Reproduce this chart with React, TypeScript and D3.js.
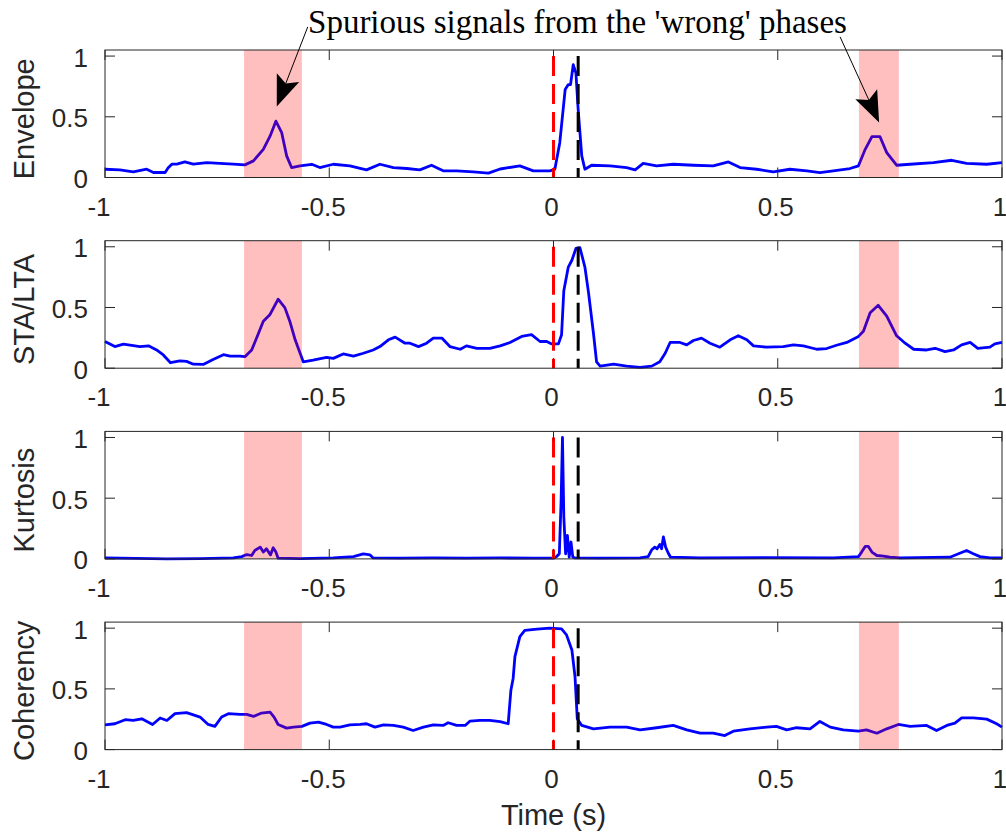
import React, { useRef, useEffect } from 'react';
import * as d3 from 'd3';

// time (s) vs normalised characteristic function
const envelope: [number, number][] = [
    [-1, 0.068], [-0.967, 0.063], [-0.937, 0.046], [-0.907, 0.068], [-0.892, 0.041], [-0.866, 0.041],
    [-0.859, 0.08], [-0.851, 0.11], [-0.84, 0.11], [-0.822, 0.128], [-0.803, 0.11], [-0.773, 0.123],
    [-0.744, 0.117], [-0.714, 0.11], [-0.688, 0.104], [-0.669, 0.137], [-0.647, 0.232], [-0.632, 0.34],
    [-0.619, 0.464], [-0.606, 0.369], [-0.595, 0.178], [-0.584, 0.082], [-0.565, 0.096], [-0.539, 0.109],
    [-0.521, 0.082], [-0.491, 0.109], [-0.454, 0.096], [-0.417, 0.063], [-0.387, 0.109], [-0.357, 0.082],
    [-0.327, 0.074], [-0.298, 0.063], [-0.272, 0.101], [-0.246, 0.055], [-0.216, 0.055], [-0.179, 0.046],
    [-0.145, 0.036], [-0.119, 0.07], [-0.075, 0.096], [-0.045, 0.055], [-0.008, 0.055], [0.003, 0.068],
    [0.014, 0.287], [0.026, 0.724], [0.033, 0.765], [0.038, 0.765], [0.044, 0.929], [0.05, 0.861],
    [0.055, 0.56], [0.063, 0.178], [0.07, 0.068], [0.085, 0.101], [0.126, 0.096], [0.163, 0.082],
    [0.182, 0.063], [0.2, 0.117], [0.23, 0.096], [0.267, 0.109], [0.312, 0.101], [0.356, 0.096],
    [0.39, 0.128], [0.416, 0.082], [0.453, 0.068], [0.49, 0.046], [0.527, 0.068], [0.565, 0.055],
    [0.594, 0.041], [0.624, 0.055], [0.661, 0.074], [0.68, 0.096], [0.695, 0.232], [0.71, 0.336],
    [0.728, 0.336], [0.743, 0.205], [0.765, 0.101], [0.795, 0.109], [0.847, 0.123], [0.888, 0.142],
    [0.921, 0.117], [0.966, 0.109], [1, 0.123],
];

const staLta: [number, number][] = [
    [-1, 0.22], [-0.978, 0.178], [-0.959, 0.198], [-0.922, 0.178], [-0.903, 0.184], [-0.885, 0.15],
    [-0.87, 0.109], [-0.854, 0.045], [-0.833, 0.061], [-0.818, 0.056], [-0.803, 0.033], [-0.781, 0.031],
    [-0.759, 0.072], [-0.736, 0.111], [-0.721, 0.1], [-0.699, 0.1], [-0.688, 0.095], [-0.673, 0.15],
    [-0.662, 0.248], [-0.647, 0.387], [-0.632, 0.443], [-0.614, 0.568], [-0.599, 0.499], [-0.588, 0.387],
    [-0.576, 0.234], [-0.558, 0.053], [-0.536, 0.067], [-0.506, 0.089], [-0.491, 0.081], [-0.469, 0.117],
    [-0.446, 0.1], [-0.424, 0.123], [-0.402, 0.15], [-0.387, 0.178], [-0.368, 0.234], [-0.353, 0.256],
    [-0.331, 0.206], [-0.32, 0.206], [-0.301, 0.178], [-0.283, 0.206], [-0.268, 0.248], [-0.249, 0.248],
    [-0.231, 0.178], [-0.208, 0.156], [-0.194, 0.184], [-0.171, 0.164], [-0.142, 0.164], [-0.119, 0.184],
    [-0.097, 0.212], [-0.071, 0.262], [-0.049, 0.276], [-0.03, 0.22], [-0.015, 0.22], [-0.004, 0.2],
    [0.011, 0.2], [0.018, 0.276], [0.023, 0.638], [0.033, 0.833], [0.041, 0.889], [0.05, 0.986],
    [0.059, 0.992], [0.07, 0.833], [0.078, 0.624], [0.089, 0.29], [0.096, 0.053], [0.104, 0.017],
    [0.134, 0.033], [0.163, 0.017], [0.193, 0.006], [0.219, 0.017], [0.237, 0.053], [0.249, 0.123],
    [0.26, 0.212], [0.282, 0.212], [0.297, 0.192], [0.312, 0.228], [0.33, 0.248], [0.349, 0.206],
    [0.371, 0.173], [0.394, 0.234], [0.412, 0.267], [0.431, 0.234], [0.446, 0.184], [0.475, 0.173],
    [0.512, 0.178], [0.535, 0.192], [0.557, 0.184], [0.587, 0.156], [0.609, 0.162], [0.631, 0.189],
    [0.654, 0.212], [0.68, 0.262], [0.691, 0.304], [0.706, 0.457], [0.724, 0.518], [0.743, 0.429],
    [0.765, 0.267], [0.784, 0.206], [0.803, 0.156], [0.832, 0.15], [0.851, 0.164], [0.873, 0.136],
    [0.892, 0.15], [0.91, 0.192], [0.929, 0.212], [0.946, 0.164], [0.973, 0.173], [0.984, 0.2], [1, 0.212],
];

const kurtosis: [number, number][] = [
    [-1, 0.008], [-0.862, 0.0], [-0.788, 0.003], [-0.714, 0.008], [-0.695, 0.019], [-0.684, 0.036],
    [-0.673, 0.028], [-0.666, 0.069], [-0.654, 0.097], [-0.647, 0.056], [-0.64, 0.083], [-0.631, 0.033],
    [-0.625, 0.092], [-0.619, 0.056], [-0.614, 0.006], [-0.565, 0.003], [-0.491, 0.008], [-0.446, 0.019],
    [-0.424, 0.042], [-0.409, 0.033], [-0.402, 0.008], [-0.342, 0.006], [-0.268, 0.008], [-0.194, 0.006],
    [-0.119, 0.008], [-0.045, 0.006], [0.0, 0.006], [0.007, 0.019], [0.013, 0.042], [0.017, 0.483],
    [0.02, 1.0], [0.023, 0.347], [0.027, 0.042], [0.031, 0.194], [0.035, 0.014], [0.039, 0.139],
    [0.043, 0.014], [0.048, 0.008], [0.104, 0.006], [0.193, 0.008], [0.211, 0.019], [0.219, 0.075],
    [0.226, 0.097], [0.231, 0.083], [0.237, 0.119], [0.241, 0.083], [0.245, 0.181], [0.25, 0.097],
    [0.256, 0.047], [0.261, 0.014], [0.327, 0.008], [0.475, 0.011], [0.624, 0.008], [0.68, 0.019],
    [0.687, 0.056], [0.695, 0.103], [0.702, 0.103], [0.71, 0.056], [0.721, 0.028], [0.736, 0.022],
    [0.75, 0.014], [0.773, 0.008], [0.884, 0.014], [0.903, 0.042], [0.921, 0.069], [0.936, 0.042],
    [0.951, 0.019], [0.973, 0.008], [1, 0.008],
];

const coherency: [number, number][] = [
    [-1, 0.204], [-0.978, 0.213], [-0.955, 0.246], [-0.937, 0.24], [-0.918, 0.254], [-0.894, 0.207],
    [-0.877, 0.26], [-0.862, 0.24], [-0.844, 0.296], [-0.818, 0.304], [-0.788, 0.268], [-0.77, 0.207],
    [-0.755, 0.191], [-0.74, 0.268], [-0.725, 0.296], [-0.699, 0.29], [-0.684, 0.29], [-0.669, 0.273],
    [-0.651, 0.301], [-0.632, 0.309], [-0.623, 0.268], [-0.614, 0.207], [-0.595, 0.177], [-0.58, 0.185],
    [-0.561, 0.191], [-0.543, 0.218], [-0.524, 0.227], [-0.506, 0.207], [-0.491, 0.185], [-0.476, 0.185],
    [-0.454, 0.204], [-0.431, 0.207], [-0.417, 0.213], [-0.398, 0.185], [-0.379, 0.204], [-0.357, 0.199],
    [-0.335, 0.185], [-0.313, 0.157], [-0.29, 0.185], [-0.268, 0.204], [-0.246, 0.199], [-0.235, 0.221],
    [-0.216, 0.199], [-0.197, 0.199], [-0.186, 0.235], [-0.164, 0.24], [-0.142, 0.24], [-0.119, 0.23],
    [-0.101, 0.213], [-0.095, 0.489], [-0.09, 0.586], [-0.086, 0.765], [-0.075, 0.931], [-0.064, 0.981],
    [-0.037, 0.992], [-0.008, 1.0], [0.018, 0.994], [0.029, 0.945], [0.041, 0.82], [0.048, 0.599],
    [0.053, 0.254], [0.063, 0.199], [0.089, 0.171], [0.126, 0.185], [0.163, 0.185], [0.193, 0.163],
    [0.23, 0.18], [0.267, 0.199], [0.297, 0.163], [0.327, 0.135], [0.356, 0.135], [0.382, 0.116],
    [0.401, 0.152], [0.438, 0.171], [0.475, 0.185], [0.497, 0.191], [0.52, 0.163], [0.542, 0.18],
    [0.572, 0.171], [0.594, 0.232], [0.617, 0.185], [0.646, 0.163], [0.68, 0.152], [0.698, 0.163],
    [0.721, 0.135], [0.743, 0.171], [0.769, 0.207], [0.795, 0.191], [0.832, 0.199], [0.854, 0.157],
    [0.877, 0.199], [0.895, 0.218], [0.91, 0.262], [0.936, 0.262], [0.966, 0.251], [0.988, 0.213], [1, 0.185],
];

const panelLabels = ['Envelope', 'STA/LTA', 'Kurtosis', 'Coherency'];
const panelSeries = [envelope, staLta, kurtosis, coherency];
const xTicks = [-1, -0.5, 0, 0.5, 1];
const yTicks = [0, 0.5, 1];
const shadedWindows: [number, number][] = [[-0.69, -0.561], [0.681, 0.77]];
const trueOnset = 0;      // red dashed
const pickedOnset = 0.055; // black dashed

const annotationText = "Spurious signals from the 'wrong' phases";
// [tailX, tailY, tipX, tipY] in envelope-panel data units
const annotationArrows: [number, number, number, number][] = [
    [-0.548, 1.24, -0.617, 0.584],
    [0.639, 1.158, 0.726, 0.453],
];

const W = 1006;
const H = 837;
const tickFont = '"Liberation Sans", Arial, Helvetica, sans-serif';
const axisColor = '#262626';

export default function App() {
    const svgRef = useRef<SVGSVGElement | null>(null);

    useEffect(() => {
        if (!svgRef.current) return;
        const svg = d3.select(svgRef.current);
        svg.selectAll('*').remove();

        const left = 105;
        const right = 1002;
        const firstTop = 50;
        const step = 190.7;
        const panelH = 127.5;
        const tickLen = 10;

        const x = d3.scaleLinear().domain([-1, 1]).range([left, right]);

        let envY: d3.ScaleLinear<number, number> | null = null;

        panelSeries.forEach((series, i) => {
            const top = firstTop + i * step;
            const bottom = top + panelH;
            const y = d3.scaleLinear().domain([0, 1.05]).range([bottom, top]);
            if (i === 0) envY = y;
            const g = svg.append('g');

            const line = d3.line<[number, number]>()
                .x(d => x(d[0]))
                .y(d => y(d[1]));

            g.append('path')
                .datum(series)
                .attr('d', line)
                .attr('fill', 'none')
                .attr('stroke', '#0000ff')
                .attr('stroke-width', 2.8)
                .attr('stroke-linejoin', 'round');

            g.append('line')
                .attr('x1', x(trueOnset)).attr('x2', x(trueOnset))
                .attr('y1', y(1)).attr('y2', y(0))
                .attr('stroke', '#ff0000')
                .attr('stroke-width', 3)
                .attr('stroke-dasharray', '20,8');

            g.append('line')
                .attr('x1', x(pickedOnset)).attr('x2', x(pickedOnset))
                .attr('y1', y(1)).attr('y2', y(0))
                .attr('stroke', '#000000')
                .attr('stroke-width', 3)
                .attr('stroke-dasharray', '20,8');

            // translucent windows drawn over the trace
            g.selectAll('rect.win')
                .data(shadedWindows)
                .join('rect')
                .attr('class', 'win')
                .attr('x', d => x(d[0]))
                .attr('width', d => x(d[1]) - x(d[0]))
                .attr('y', top)
                .attr('height', panelH)
                .attr('fill', '#ff0000')
                .attr('fill-opacity', 0.25);

            // box
            g.append('rect')
                .attr('x', left).attr('y', top)
                .attr('width', right - left).attr('height', panelH)
                .attr('fill', 'none')
                .attr('stroke', axisColor)
                .attr('stroke-width', 1);

            // x ticks (inside, top and bottom)
            xTicks.forEach(t => {
                g.append('line')
                    .attr('x1', x(t)).attr('x2', x(t))
                    .attr('y1', bottom).attr('y2', bottom - tickLen)
                    .attr('stroke', axisColor);
                g.append('line')
                    .attr('x1', x(t)).attr('x2', x(t))
                    .attr('y1', top).attr('y2', top + tickLen)
                    .attr('stroke', axisColor);
            });
            g.selectAll('text.xt')
                .data(xTicks)
                .join('text')
                .attr('class', 'xt')
                .attr('x', d => x(d) + (d < 0 ? -6 : -2))
                .attr('y', bottom + 38)
                .attr('text-anchor', 'middle')
                .attr('font-family', tickFont)
                .attr('font-size', 26)
                .attr('fill', axisColor)
                .text(d => String(d));

            // y ticks (inside, left and right)
            yTicks.forEach(t => {
                g.append('line')
                    .attr('x1', left).attr('x2', left + tickLen)
                    .attr('y1', y(t)).attr('y2', y(t))
                    .attr('stroke', axisColor);
                g.append('line')
                    .attr('x1', right).attr('x2', right - tickLen)
                    .attr('y1', y(t)).attr('y2', y(t))
                    .attr('stroke', axisColor);
            });
            g.selectAll('text.yt')
                .data(yTicks)
                .join('text')
                .attr('class', 'yt')
                .attr('x', left - 17)
                .attr('y', d => y(d) + 10.5)
                .attr('text-anchor', 'end')
                .attr('font-family', tickFont)
                .attr('font-size', 26)
                .attr('fill', axisColor)
                .text(d => String(d));

            g.append('text')
                .attr('transform', `translate(34,${(top + bottom) / 2 + 5}) rotate(-90)`)
                .attr('text-anchor', 'middle')
                .attr('font-family', tickFont)
                .attr('font-size', 29)
                .attr('fill', axisColor)
                .text(panelLabels[i]);

            if (i === panelSeries.length - 1) {
                svg.append('text')
                    .attr('x', x(0))
                    .attr('y', 825)
                    .attr('text-anchor', 'middle')
                    .attr('font-family', tickFont)
                    .attr('font-size', 29)
                    .attr('fill', axisColor)
                    .text('Time (s)');
            }
        });

        // annotation
        const ey = envY as unknown as d3.ScaleLinear<number, number>;
        svg.append('text')
            .attr('x', 577.5)
            .attr('y', 33)
            .attr('text-anchor', 'middle')
            .attr('font-family', '"Liberation Serif", "Times New Roman", serif')
            .attr('font-size', 33)
            .attr('fill', '#000')
            .text(annotationText);

        annotationArrows.forEach(([tx, ty, hx, hy]) => {
            const x0 = x(tx), y0 = ey(ty), x1 = x(hx), y1 = ey(hy);
            const dx = x1 - x0, dy = y1 - y0;
            const len = Math.hypot(dx, dy);
            const ux = dx / len, uy = dy / len;
            const nx = -uy, ny = ux;
            const headL = 31, headW = 24, notch = 0.8;
            const bx = x1 - headL * ux, by = y1 - headL * uy;
            const mx = x1 - headL * notch * ux, my = y1 - headL * notch * uy;
            svg.append('line')
                .attr('x1', x0).attr('y1', y0)
                .attr('x2', mx).attr('y2', my)
                .attr('stroke', '#000')
                .attr('stroke-width', 1);
            svg.append('path')
                .attr('d', `M${x1},${y1}L${bx + nx * headW / 2},${by + ny * headW / 2}L${mx},${my}L${bx - nx * headW / 2},${by - ny * headW / 2}Z`)
                .attr('fill', '#000');
        });
    }, []);

    return (
        <svg
            ref={svgRef}
            width={W}
            height={H}
            style={{ position: 'absolute', left: 0, top: 0, background: '#fff' }}
        />
    );
}
